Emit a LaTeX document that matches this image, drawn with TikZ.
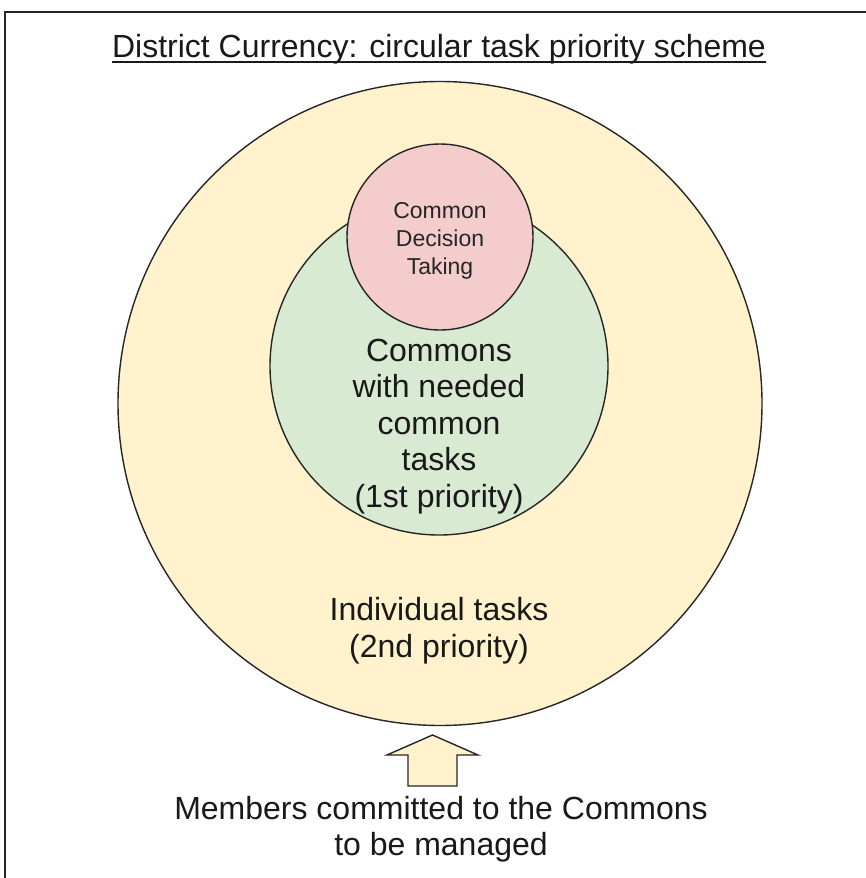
\documentclass[tikz,border=0pt]{standalone}
\usepackage{fontspec}
\setmainfont{Liberation Sans}
\definecolor{outerfill}{HTML}{FFF2CC}
\definecolor{innerfill}{HTML}{D9EAD3}
\definecolor{decisionfill}{HTML}{F4CCCC}
\definecolor{edgecol}{HTML}{262626}
\begin{document}
\begin{tikzpicture}[x=1pt, y=-1pt,
  ring/.style={circle, draw=edgecol, line width=1.4pt, inner sep=0pt},
  bigtext/.style={font=\fontsize{32}{36.5}\selectfont, align=center, inner sep=0pt, text=black!90},
  smalltext/.style={font=\fontsize{23}{28}\selectfont, align=center, inner sep=0pt, text=black!85},
  blockarrow/.style={draw=edgecol, line width=1.4pt, fill=outerfill, line join=miter}]
  \useasboundingbox (0,0) rectangle (866,878);
  % open frame along the top and left edge
  \draw[edgecol, line width=1.6pt] (5,880) -- (5,12) -- (868,12);
  % title with its underline
  \node[bigtext, anchor=base] (title) at (439,57) {District Currency: circular task priority scheme};
  \draw[black!90, line width=1.3pt] ([yshift=-5pt]title.base west) -- ([yshift=-5pt]title.base east);
  % nested circles
  \node[ring, fill=outerfill, minimum size=644pt] (outer) at (440,403.5) {};
  \node[ring, fill=innerfill, minimum size=338pt] (commons) at (439,366) {};
  \node[ring, fill=decisionfill, minimum size=186pt] (decision) at (440,237) {};
  % circle labels
  \node[smalltext] (decisionlabel) at (440,241) {Common\\Decision\\Taking};
  \node[bigtext] (commonslabel) at (439,426.5) {Commons\\with needed\\common\\tasks\\(1st priority)};
  \node[bigtext] (outerlabel) at (439,630.5) {Individual tasks\\(2nd priority)};
  % block arrow pointing up into the outer circle
  \coordinate (tip) at (432.5,735);
  \draw[blockarrow] (tip) -- ++(45.5,20) -- ++(-21,0) -- ++(0,31) -- ++(-49,0) -- ++(0,-31) -- ++(-21,0) -- cycle;
  % members label
  \node[bigtext] (members) at (441,829) {Members committed to the Commons\\to be managed};
\end{tikzpicture}
\end{document}
